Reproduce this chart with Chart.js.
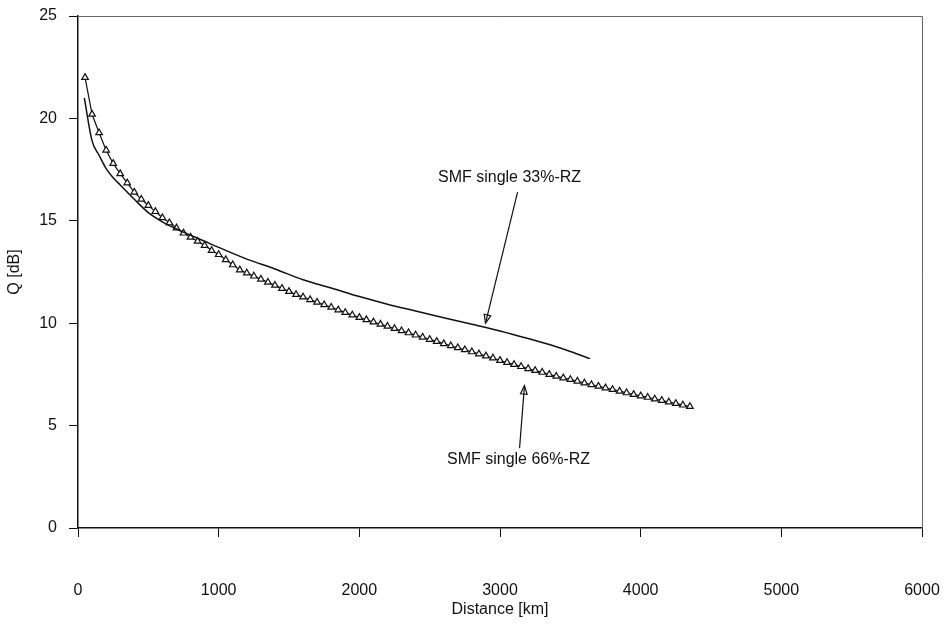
<!DOCTYPE html>
<html>
<head>
<meta charset="utf-8">
<script src="https://cdn.jsdelivr.net/npm/chart.js@4.4.0/dist/chart.umd.min.js"></script>
<style>
  html, body { margin: 0; padding: 0; background: #fff; }
</style>
</head>
<body>
<canvas id="q_Chart" width="949" height="625"></canvas>
<script>
// SMF single 33%-RZ (plain line)
const distA = [45, 100, 150, 200, 250, 300, 400, 500, 600, 700, 800, 900, 1000, 1200, 1400,
  1600, 1800, 2000, 2200, 2400, 2600, 2800, 3000, 3200, 3400, 3500, 3640];
const qA = [21.0, 18.9, 18.2, 17.55, 17.1, 16.75, 16.05, 15.4, 14.95, 14.6, 14.3, 14.0, 13.7, 13.13, 12.65,
  12.12, 11.72, 11.3, 10.93, 10.6, 10.27, 9.95, 9.62, 9.25, 8.85, 8.62, 8.27];

// SMF single 66%-RZ (triangles)
const distB = [50, 100, 150, 200, 250, 300, 350, 400, 450, 500,
  550, 600, 650, 700, 750, 800, 850, 900, 950, 1000,
  1050, 1100, 1150, 1200, 1250, 1300, 1350, 1400, 1450, 1500,
  1550, 1600, 1650, 1700, 1750, 1800, 1850, 1900, 1950, 2000,
  2050, 2100, 2150, 2200, 2250, 2300, 2350, 2400, 2450, 2500,
  2550, 2600, 2650, 2700, 2750, 2800, 2850, 2900, 2950, 3000,
  3050, 3100, 3150, 3200, 3250, 3300, 3350, 3400, 3450, 3500,
  3550, 3600, 3650, 3700, 3750, 3800, 3850, 3900, 3950, 4000,
  4050, 4100, 4150, 4200, 4250, 4300, 4350];
const qB = [22.0, 20.2, 19.3, 18.45, 17.8, 17.3, 16.85, 16.4, 16.05, 15.75,
  15.45, 15.15, 14.9, 14.65, 14.4, 14.2, 14.0, 13.8, 13.55, 13.35,
  13.1, 12.85, 12.6, 12.45, 12.3, 12.15, 12.0, 11.85, 11.7, 11.55,
  11.4, 11.28, 11.15, 11.02, 10.9, 10.78, 10.65, 10.52, 10.4, 10.28,
  10.17, 10.06, 9.95, 9.85, 9.74, 9.63, 9.53, 9.42, 9.32, 9.21,
  9.11, 9.0, 8.9, 8.8, 8.7, 8.6, 8.5, 8.4, 8.3, 8.18,
  8.08, 7.98, 7.88, 7.78, 7.69, 7.6, 7.5, 7.41, 7.33, 7.25,
  7.17, 7.08, 7.0, 6.92, 6.84, 6.76, 6.68, 6.6, 6.52, 6.45,
  6.38, 6.3, 6.23, 6.15, 6.08, 6.0, 5.93];

// callout labels (in data units)
const noteText = ['SMF single 33%-RZ', 'SMF single 66%-RZ'];
const noteAt = [[3068, 17.1], [3132, 3.32]];
const arrowFrom = [[3125, 16.4], [3139, 3.9]];
const arrowTo = [[2897, 10.0], [3174, 6.95]];

const FONT = 'Liberation Sans, Arial, sans-serif';

const pts = (xs, ys) => xs.map((x, i) => ({ x: x, y: ys[i] }));

// frame on top/right + callouts with arrows
const extras = {
  id: 'extras',
  afterDraw(chart) {
    const ctx = chart.ctx;
    const a = chart.chartArea;
    const sx = chart.scales.x, sy = chart.scales.y;
    ctx.save();
    ctx.strokeStyle = '#666';
    ctx.lineWidth = 1;
    ctx.beginPath();
    ctx.moveTo(a.left, a.top + 0.5);
    ctx.lineTo(a.right + 0.5, a.top + 0.5);
    ctx.lineTo(a.right + 0.5, a.bottom);
    ctx.stroke();

    ctx.fillStyle = '#111';
    ctx.font = '16px ' + FONT;
    ctx.textAlign = 'center';
    ctx.textBaseline = 'middle';
    noteText.forEach((t, i) => {
      ctx.fillText(t, sx.getPixelForValue(noteAt[i][0]), sy.getPixelForValue(noteAt[i][1]));
      const x1 = sx.getPixelForValue(arrowFrom[i][0]), y1 = sy.getPixelForValue(arrowFrom[i][1]);
      const x2 = sx.getPixelForValue(arrowTo[i][0]), y2 = sy.getPixelForValue(arrowTo[i][1]);
      ctx.strokeStyle = '#111';
      ctx.lineWidth = 1.2;
      ctx.beginPath();
      ctx.moveTo(x1, y1);
      ctx.lineTo(x2, y2);
      ctx.stroke();
      const ang = Math.atan2(y2 - y1, x2 - x1);
      const len = 9, spread = 0.38;
      ctx.beginPath();
      ctx.moveTo(x2, y2);
      ctx.lineTo(x2 - len * Math.cos(ang - spread), y2 - len * Math.sin(ang - spread));
      ctx.lineTo(x2 - len * Math.cos(ang + spread), y2 - len * Math.sin(ang + spread));
      ctx.closePath();
      ctx.stroke();
    });
    ctx.restore();
  }
};

const config = {
  type: 'line',
  data: {
    datasets: [{
      label: 'SMF single 33%-RZ',
      data: pts(distA, qA),
      borderColor: '#111',
      borderWidth: 1.5,
      pointRadius: 0,
      cubicInterpolationMode: 'monotone'
    }, {
      label: 'SMF single 66%-RZ',
      data: pts(distB, qB),
      borderColor: '#111',
      borderWidth: 1.2,
      pointStyle: 'triangle',
      pointRadius: 3.8,
      pointBorderWidth: 1.2,
      pointBorderColor: '#111',
      pointBackgroundColor: '#fff'
    }]
  },
  options: {
    responsive: false,
    animation: false,
    layout: { padding: { top: 16, right: 27, left: 0, bottom: 0 } },
    plugins: {
      legend: { display: false },
      tooltip: { enabled: false }
    },
    scales: {
      x: {
        type: 'linear',
        min: 0,
        max: 6000,
        // fixed axis band, no extra label overflow padding
        afterFit: s => { s.height = 97; s.paddingLeft = 0; s.paddingRight = 0; },
        ticks: { stepSize: 1000, padding: 44, color: '#111', font: { family: FONT, size: 16 },
          callback: v => String(v) },
        grid: { drawOnChartArea: false, drawTicks: true, tickLength: 9, color: '#111' },
        border: { color: '#111', width: 1.5 },
        title: { display: true, text: 'Distance [km]', color: '#111', font: { family: FONT, size: 16 }, padding: { top: 0, bottom: 6 } }
      },
      y: {
        min: 0,
        max: 25,
        afterFit: s => { s.width = 78; s.paddingTop = 0; s.paddingBottom = 0; },
        ticks: { stepSize: 5, padding: 12, color: '#111', font: { family: FONT, size: 16 } },
        grid: { drawOnChartArea: false, drawTicks: true, tickLength: 9, color: '#111' },
        border: { color: '#111', width: 1.5 },
        title: { display: true, text: 'Q [dB]', color: '#111', font: { family: FONT, size: 16 }, padding: { top: 5, bottom: 0 } }
      }
    }
  },
  plugins: [extras]
};

const myChart = new Chart(document.getElementById('q_Chart'), config);
</script>
</body>
</html>
